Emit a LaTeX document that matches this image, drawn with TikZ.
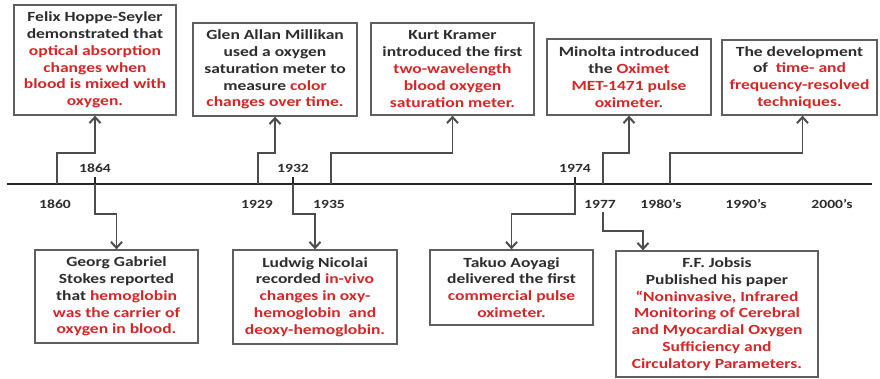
\documentclass[tikz,border=0pt]{standalone}
\usepackage{fontspec}
\setmainfont[FakeStretch=1.25]{Carlito}
\usetikzlibrary{arrows.meta, positioning}

\definecolor{txtgray}{RGB}{45,45,45}
\definecolor{hired}{RGB}{212,38,38}
\definecolor{boxgray}{RGB}{95,95,95}
\newcommand{\hi}[1]{\textcolor{hired}{#1}}

\begin{document}
\begin{tikzpicture}[
            x=1pt, y=-1pt,
            event/.style={
                draw=boxgray, line width=1.3pt, fill=white, align=center,
                text=txtgray, inner sep=2pt,
                font=\bfseries\fontsize{14}{16.8}\selectfont
            },
            year/.style={text=txtgray, font=\bfseries\fontsize{12.5}{14}\selectfont},
            link/.style={draw=boxgray!80!black, line width=1.3pt,
                -{Straight Barb[length=6pt, width=11pt, line width=2pt]}}
        ]
        \useasboundingbox (0,0) rectangle (880,379);

        % timeline
        \coordinate (tl start) at (7,184);
        \coordinate (tl end) at (872,184);
        \draw[line width=2.6pt, black!85] (tl start) -- (tl end);

        \coordinate (t1860) at (57,184);
        \coordinate (t1864) at (95,184);
        \coordinate (t1929) at (258,184);
        \coordinate (t1932) at (293,184);
        \coordinate (t1935) at (331,184);
        \coordinate (t1974) at (575,184);
        \coordinate (t1977) at (603,184);
        \coordinate (t1980) at (670,184);

        % ticks
        \foreach \t in {t1864, t1932, t1974}
            \draw[line width=1.2pt, black!85] ([yshift=-7pt]\t) -- ([yshift=7pt]\t);

        % years
        \node[year] (l1864) at (95,168) {1864};
        \node[year] (l1932) at (293,168) {1932};
        \node[year] (l1974) at (575,168) {1974};
        \node[year] (l1860) at (55,204) {1860};
        \node[year] (l1929) at (257,204) {1929};
        \node[year] (l1935) at (329,204) {1935};
        \node[year] (l1977) at (600,204) {1977};
        \node[year] (l1980) at (661,204) {1980’s};
        \node[year] (l1990) at (746,204) {1990’s};
        \node[year] (l2000) at (832,204) {2000’s};
        \coordinate (d1977) at (603,212);

        % events above
        \node[event, minimum width=162, minimum height=110] (felix) at (95,60)
            {Felix Hoppe-Seyler\\ demonstrated that\\ \hi{optical absorption}\\
             \hi{changes when}\\ \hi{blood is mixed with}\\ \hi{oxygen.}};
        \node[event, minimum width=164, minimum height=93] (glen) at (275,69.5)
            {Glen Allan Millikan\\ used a oxygen\\ saturation meter to\\
             measure \hi{color}\\ \hi{changes over time.}};
        \node[event, minimum width=163, minimum height=92] (kurt) at (452.5,69)
            {Kurt Kramer\\ introduced the first\\ \hi{two-wavelength}\\
             \hi{blood oxygen}\\ \hi{saturation meter.}};
        \node[event, minimum width=164, minimum height=76] (minolta) at (629,77)
            {Minolta introduced\\ the \hi{Oximet}\\ \hi{MET-1471 pulse}\\ \hi{oximeter.}};
        \node[event, minimum width=155, minimum height=75] (develop) at (799.5,77.5)
            {The development\\ of\ \ \hi{time- and}\\ \hi{frequency-resolved}\\ \hi{techniques.}};

        % events below
        \node[event, minimum width=163, minimum height=93] (georg) at (116.5,296.5)
            {Georg Gabriel\\ Stokes reported\\ that \hi{hemoglobin}\\
             \hi{was the carrier of}\\ \hi{oxygen in blood.}};
        \node[event, minimum width=164, minimum height=94] (ludwig) at (315,297)
            {Ludwig Nicolai\\ recorded \hi{in-vivo}\\ \hi{changes in oxy-}\\
             \hi{hemoglobin\ \ and}\\ \hi{deoxy-hemoglobin.}};
        \node[event, minimum width=163, minimum height=75] (takuo) at (511.5,287.5)
            {Takuo Aoyagi\\ delivered the first\\ \hi{commercial pulse}\\ \hi{oximeter.}};
        \node[event, minimum width=202, minimum height=126] (jobsis) at (717,314)
            {F.F. Jobsis\\ Published his paper\\ \hi{“Noninvasive, Infrared}\\
             \hi{Monitoring of Cerebral}\\ \hi{and Myocardial Oxygen}\\
             \hi{Sufficiency and}\\ \hi{Circulatory Parameters.}};

        % connectors
        \draw[link] (t1860) -- ++(0,-31) -| (felix.south);
        \draw[link] (t1929) -- ++(0,-31) -| (glen.south);
        \draw[link] (t1935) -- ++(0,-31) -| (kurt.south);
        \draw[link] (t1977) -- ++(0,-31) -| (minolta.south);
        \draw[link] (t1980) -- ++(0,-31) -| ([xshift=3pt]develop.south);

        \draw[link] (t1864) -- ++(0,30) -| (georg.north);
        \draw[link] (t1932) -- ++(0,30) -| (ludwig.north);
        \draw[link] (t1974) -- ++(0,30) -| (takuo.north);
        \draw[link] (d1977) -- ++(0,19) -| ([xshift=-74pt]jobsis.north);
    \end{tikzpicture}
\end{document}
